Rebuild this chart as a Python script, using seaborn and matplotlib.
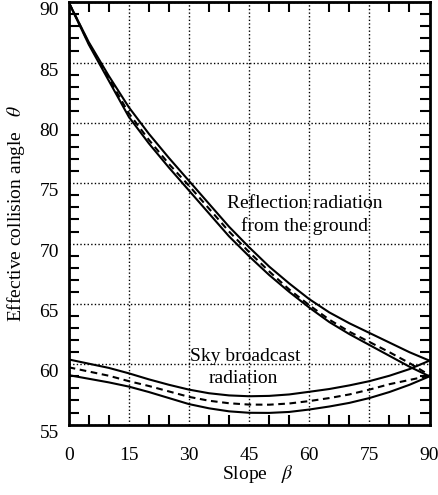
import numpy as np
import pandas as pd
import matplotlib
matplotlib.use("Agg")
import matplotlib.pyplot as plt
import matplotlib.transforms as mtransforms
import seaborn as sns
from matplotlib.ticker import MultipleLocator

# ---- data ----
slope = [0, 5, 10, 15, 20, 25, 30, 35, 40, 45, 50, 55, 60, 65, 70, 75, 80, 85, 90]

refl_upper = [90.0, 86.7, 83.9, 81.3, 79.1, 77.1, 75.2, 73.3, 71.4, 69.7, 68.1, 66.7,
              65.4, 64.3, 63.4, 62.6, 61.8, 61.0, 60.3]
refl_mid = [90.0, 86.6, 83.7, 80.8, 78.6, 76.6, 74.8, 72.9, 71.0, 69.3, 67.7, 66.2,
            64.9, 63.7, 62.7, 61.85, 61.0, 60.1, 59.1]
refl_lower = [90.0, 86.5, 83.5, 80.5, 78.3, 76.3, 74.4, 72.5, 70.6, 68.95, 67.4, 66.0,
              64.7, 63.5, 62.5, 61.6, 60.7, 59.8, 59.0]

sky_upper = [60.4, 60.05, 59.7, 59.25, 58.75, 58.3, 57.9, 57.6, 57.42, 57.35, 57.38,
             57.5, 57.72, 57.95, 58.25, 58.6, 59.05, 59.6, 60.3]
sky_mid = [59.75, 59.4, 59.05, 58.6, 58.2, 57.75, 57.3, 56.98, 56.77, 56.66, 56.65,
           56.75, 56.95, 57.2, 57.5, 57.9, 58.35, 58.7, 59.05]
sky_lower = [59.1, 58.8, 58.5, 58.15, 57.7, 57.2, 56.7, 56.35, 56.1, 55.98, 55.97,
             56.05, 56.25, 56.5, 56.8, 57.2, 57.7, 58.3, 59.0]

x_ticks = [0, 15, 30, 45, 60, 75, 90]
y_ticks = [55, 60, 65, 70, 75, 80, 85, 90]

series = {
    "refl_upper": (refl_upper, "-"),
    "refl_mid": (refl_mid, (0, (3.2, 2.2))),
    "refl_lower": (refl_lower, "-"),
    "sky_upper": (sky_upper, "-"),
    "sky_mid": (sky_mid, (0, (3.2, 2.2))),
    "sky_lower": (sky_lower, "-"),
}

sns.set_theme(style="ticks")
plt.rcParams["font.family"] = ["Liberation Serif", "DejaVu Serif"]
plt.rcParams["mathtext.fontset"] = "stix"
plt.rcParams["text.color"] = "black"
plt.rcParams["axes.labelcolor"] = "black"
plt.rcParams["xtick.color"] = "black"
plt.rcParams["ytick.color"] = "black"

fig = plt.figure(figsize=(4.39, 4.95), dpi=100)
ax = fig.add_axes([0.1565, 0.1422, 0.8219, 0.8532])

for name, (vals, ls) in series.items():
    df = pd.DataFrame({"slope": slope, "theta": vals})
    sns.lineplot(data=df, x="slope", y="theta", color="black", linewidth=1.5,
                 linestyle=ls, ax=ax, legend=False)

ax.set_xlim(0, 90)
ax.set_ylim(55, 90)
ax.set_xticks(x_ticks)
ax.set_yticks(y_ticks)
ax.xaxis.set_minor_locator(MultipleLocator(5))
ax.yaxis.set_minor_locator(MultipleLocator(1))

ax.grid(True, which="major", color="black", linestyle=(0, (1, 1.6)), linewidth=1.0)
ax.set_axisbelow(False)

for sp in ax.spines.values():
    sp.set_visible(True)
    sp.set_linewidth(2.0)
    sp.set_color("black")

ax.tick_params(which="major", length=0, labelsize=14, colors="black")
ax.tick_params(axis="x", which="major", pad=16)
ax.tick_params(axis="y", which="major", pad=7)
ax.tick_params(which="minor", direction="in", length=7, width=1.5,
               top=True, right=True, bottom=True, left=True, color="black")

# y tick labels sit a little below their ticks in the reference
offset = mtransforms.ScaledTranslation(0, -6.5 / 100, fig.dpi_scale_trans)
for lab in ax.get_yticklabels():
    lab.set_transform(lab.get_transform() + offset)

ax.set_xlabel(r"Slope   $\beta$", fontsize=14, color="black")
ax.set_ylabel(r"Effective collision angle   $\theta$", fontsize=14, color="black")
ax.xaxis.set_label_coords(0.523, -0.091)
ax.yaxis.set_label_coords(-0.115, 0.5)

ax.text(58.9, 72.97, "Reflection radiation", ha="center", va="baseline", fontsize=14)
ax.text(58.9, 71.07, "from the ground", ha="center", va="baseline", fontsize=14)
ax.text(44.0, 60.3, "Sky broadcast", ha="center", va="baseline", fontsize=14)
ax.text(43.6, 58.43, "radiation", ha="center", va="baseline", fontsize=14)

fig.savefig("out.png", dpi=100)
